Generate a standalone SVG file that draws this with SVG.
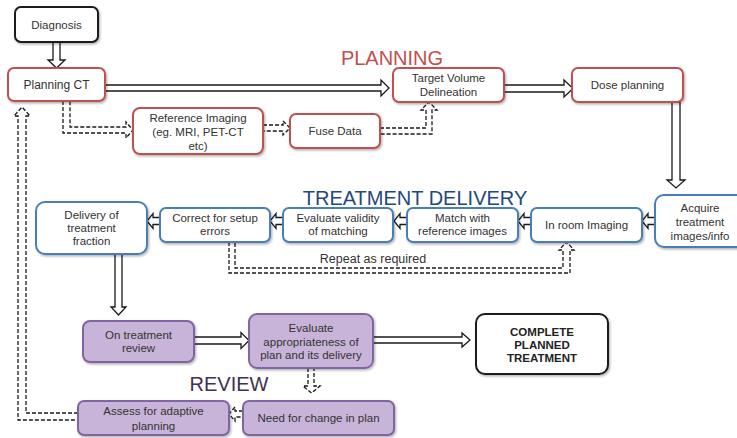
<svg xmlns="http://www.w3.org/2000/svg" width="737" height="438" viewBox="0 0 737 438">
<style>
text{font-family:"Liberation Sans",Arial,sans-serif;font-size:11.5px;fill:#333;text-anchor:middle}
.box{stroke-width:2;filter:url(#sh)}
.red{fill:#fff;stroke:#c0504d}
.blue{fill:#fff;stroke:#4a7ebb}
.pur{fill:#c8b4d8;stroke:#7f66a0}
.blk{fill:#fff;stroke:#1a1a1a}
.arr{fill:#fff;stroke:#1a1a1a;stroke-width:1.3;stroke-linejoin:miter}
.dash{fill:#fff;stroke:#1a1a1a;stroke-width:1.3;stroke-dasharray:4,2}
.title{font-size:20px}
.b{font-weight:bold;fill:#222}
</style>
<defs>
<filter id="sh" x="-10%" y="-10%" width="130%" height="140%">
<feDropShadow dx="1.2" dy="1.5" stdDeviation="1" flood-color="#000" flood-opacity="0.3"/>
</filter>
</defs>
<rect width="737" height="438" fill="#fff"/>

<g id="connectors">
<polygon class="arr" points="53,42 53,60 48,60 56.5,68 65,60 60,60 60,42"/>
<polygon class="arr" points="105,85 381,85 381,80 389,88 381,96 381,91 105,91"/>
<polygon class="arr" points="504,85 564,85 564,80 573,88.5 564,97 564,92 504,92"/>
<polygon class="arr" points="672,102 672,180 667,180 676,188 685,180 680,180 680,102"/>
<polygon class="arr" points="160,217.5 153,217.5 153,213.5 147,221 153,228.5 153,224.5 160,224.5"/>
<polygon class="arr" points="283,217.5 276,217.5 276,213.5 270,221 276,228.5 276,224.5 283,224.5"/>
<polygon class="arr" points="407,217.5 400,217.5 400,213.5 394,221 400,228.5 400,224.5 407,224.5"/>
<polygon class="arr" points="531,217.5 524,217.5 524,213.5 518,221 524,228.5 524,224.5 531,224.5"/>
<polygon class="arr" points="655,217.5 648,217.5 648,213.5 642,221 648,228.5 648,224.5 655,224.5"/>
<polygon class="arr" points="115,254 115,307 111,307 118.5,315 126,307 122,307 122,254"/>
<polygon class="arr" points="194,337 241,337 241,332.5 249,340.5 241,348.5 241,344 194,344"/>
<polygon class="arr" points="373,337 462,337 462,333 470,340 462,347 462,343 373,343"/>
<polygon class="dash" points="308,368 308,386 303,386 311.5,393 320,386 314,386 314,368"/>
<polygon class="dash" points="243,411 235,411 235,407 229,414 235,421 235,417 243,417"/>
<polyline class="dash" points="78,413 26,413 26,116 30,116 22,107 14,116 18,116 18,420 78,420"/>
<polyline class="dash" points="63,101 63,133 126,133 126,138 133,130 126,122 126,127 70,127 70,101"/>
<polygon class="dash" points="263,125 283,125 283,121 290,128 283,135 283,131 263,131"/>
<polyline class="dash" points="380,128 426,128 426,110 421,110 429,102 437,110 432,110 432,134 380,134"/>
<polyline class="dash" points="229,242 229,273 570,273 570,250 574,250 566.5,242 559,250 563,250 563,268 235,268 235,242"/>
<text x="373" y="263" style="font-size:12.5px">Repeat as required</text>
</g>

<text class="title" x="392" y="65" style="fill:#c0504d">PLANNING</text>
<text class="title" x="415" y="205" style="fill:#1f497d">TREATMENT DELIVERY</text>
<text class="title" x="229" y="391" style="fill:#3f3151">REVIEW</text>

<g id="diagnosis"><rect class="box blk" x="15" y="7" width="83" height="35" rx="6"/><text x="56.5" y="28.5">Diagnosis</text></g>
<g id="planning-ct"><rect class="box red" x="8" y="68" width="97" height="33" rx="6"/><text x="56.5" y="89" style="font-size:12px">Planning CT</text></g>
<g id="reference-imaging"><rect class="box red" x="133" y="108" width="130" height="46" rx="7"/><text x="198" y="122">Reference Imaging</text><text x="198" y="136">(eg. MRI, PET-CT</text><text x="198" y="150">etc)</text></g>
<g id="fuse-data"><rect class="box red" x="290" y="114" width="90" height="34" rx="6"/><text x="335" y="135">Fuse Data</text></g>
<g id="target-volume"><rect class="box red" x="393" y="68" width="111" height="34" rx="6"/><text x="448.5" y="82">Target Volume</text><text x="448.5" y="96">Delineation</text></g>
<g id="dose-planning"><rect class="box red" x="572" y="68" width="111" height="34" rx="6"/><text x="627.5" y="89">Dose planning</text></g>

<g id="delivery"><rect class="box blue" x="36" y="202" width="111" height="52" rx="9"/><text x="91.5" y="219">Delivery of</text><text x="91.5" y="232">treatment</text><text x="91.5" y="245">fraction</text></g>
<g id="correct-setup"><rect class="box blue" x="160" y="208" width="110" height="34" rx="6"/><text x="215" y="222">Correct for setup</text><text x="215" y="235">errors</text></g>
<g id="evaluate-validity"><rect class="box blue" x="283" y="208" width="110" height="34" rx="6"/><text x="338" y="222">Evaluate validity</text><text x="338" y="235">of matching</text></g>
<g id="match-reference"><rect class="box blue" x="407" y="208" width="111" height="34" rx="6"/><text x="462.5" y="222">Match with</text><text x="462.5" y="235">reference images</text></g>
<g id="in-room"><rect class="box blue" x="531" y="208" width="111" height="34" rx="6"/><text x="586.5" y="229">In room Imaging</text></g>
<g id="acquire"><rect class="box blue" x="655" y="195" width="92" height="52" rx="9"/><text x="700" y="212">Acquire</text><text x="700" y="226">treatment</text><text x="700" y="240">images/info</text></g>

<g id="on-treatment"><rect class="box pur" x="83" y="321" width="111" height="41" rx="7"/><text x="138.5" y="339">On treatment</text><text x="138.5" y="352">review</text></g>
<g id="evaluate-appropriateness"><rect class="box pur" x="249" y="314" width="124" height="54" rx="8"/><text x="311" y="332">Evaluate</text><text x="311" y="346">appropriateness of</text><text x="311" y="359">plan and its delivery</text></g>
<g id="complete"><rect class="box blk" x="476" y="314" width="132" height="60" rx="9"/><text class="b" x="542" y="336">COMPLETE</text><text class="b" x="542" y="349">PLANNED</text><text class="b" x="542" y="362">TREATMENT</text></g>
<g id="need-change"><rect class="box pur" x="243" y="401" width="151" height="34" rx="6"/><text x="318.5" y="422">Need for change in plan</text></g>
<g id="assess-adaptive"><rect class="box pur" x="78" y="401" width="151" height="34" rx="6"/><text x="153.5" y="415">Assess for adaptive</text><text x="153.5" y="430">planning</text></g>
</svg>
